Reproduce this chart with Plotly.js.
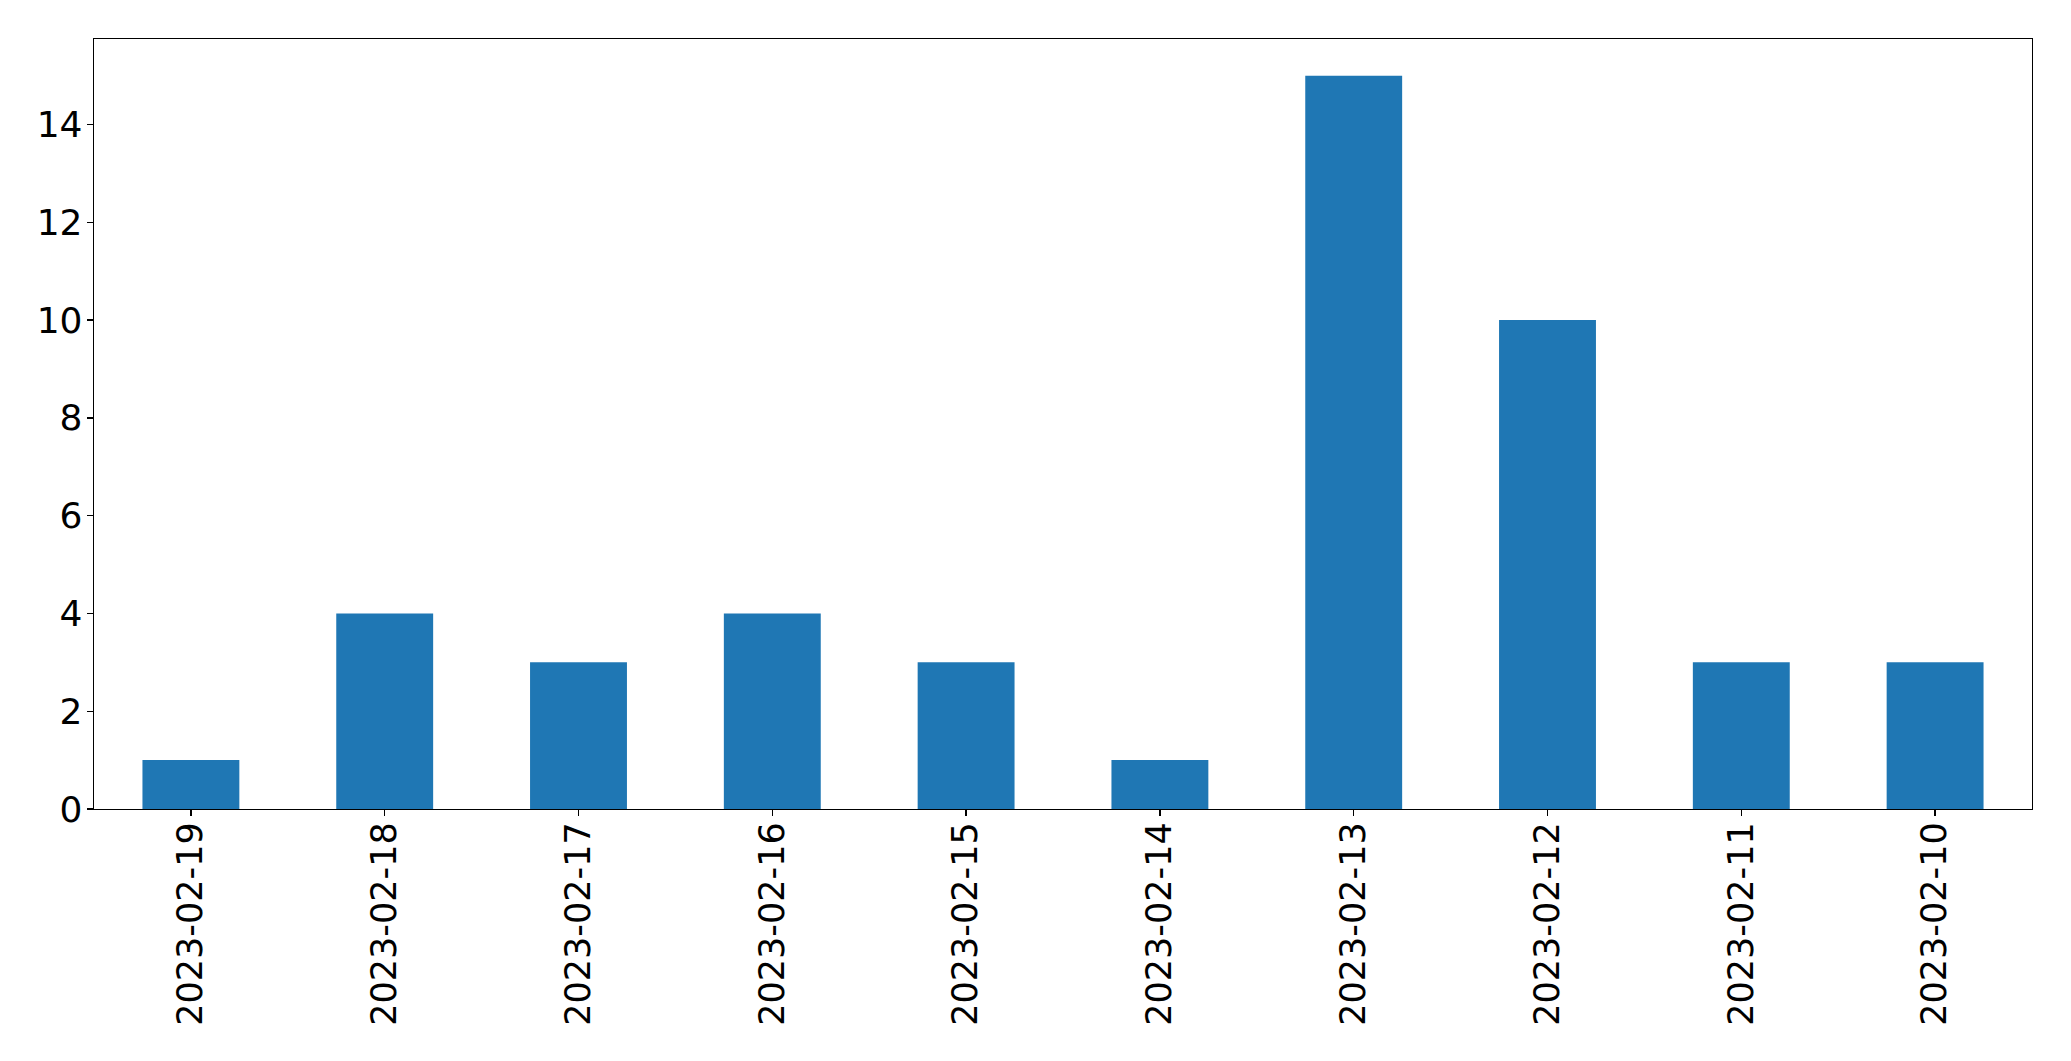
<!DOCTYPE html>
<html>
<head>
<meta charset="utf-8">
<script src="https://cdn.plot.ly/plotly-3.0.1.min.js"></script>
<style>html,body{margin:0;padding:0;background:#fff;}#chart{width:2071px;height:1061px;}</style>
</head>
<body>
<div id="chart"></div>
<script>
const dates = ["2023-02-19","2023-02-18","2023-02-17","2023-02-16","2023-02-15","2023-02-14","2023-02-13","2023-02-12","2023-02-11","2023-02-10"];
const counts = [1, 4, 3, 4, 3, 1, 15, 10, 3, 3];
const yTicks = [0, 2, 4, 6, 8, 10, 12, 14];

const trace = {
  type: 'bar',
  x: dates,
  y: counts,
  marker: {color: '#1f77b4', line: {width: 0}},
  hoverinfo: 'x+y'
};

const axisCommon = {
  showline: true, mirror: true, linecolor: '#000', linewidth: 1.3,
  showgrid: false, zeroline: false,
  ticks: 'outside', ticklen: 6, tickwidth: 1.3, tickcolor: '#000'
};

const layout = {
  width: 2071, height: 1061,
  margin: {l: 94, r: 39, t: 39, b: 252, pad: 0},
  paper_bgcolor: '#fff', plot_bgcolor: '#fff',
  showlegend: false,
  bargap: 0.5,
  xaxis: Object.assign({}, axisCommon, {
    type: 'category', tickangle: -90, range: [-0.5, 9.5], ticklabelstandoff: -8,
    tickfont: {family: 'DejaVu Sans', size: 35, color: '#000'}
  }),
  yaxis: Object.assign({}, axisCommon, {
    range: [0, 15.75], tickmode: 'array', tickvals: yTicks, ticktext: yTicks.map(String), ticklabelstandoff: -3,
    tickfont: {family: 'DejaVu Sans', size: 36, color: '#000'}
  })
};

Plotly.newPlot('chart', [trace], layout, {displayModeBar: false, staticPlot: true});
</script>
</body>
</html>
